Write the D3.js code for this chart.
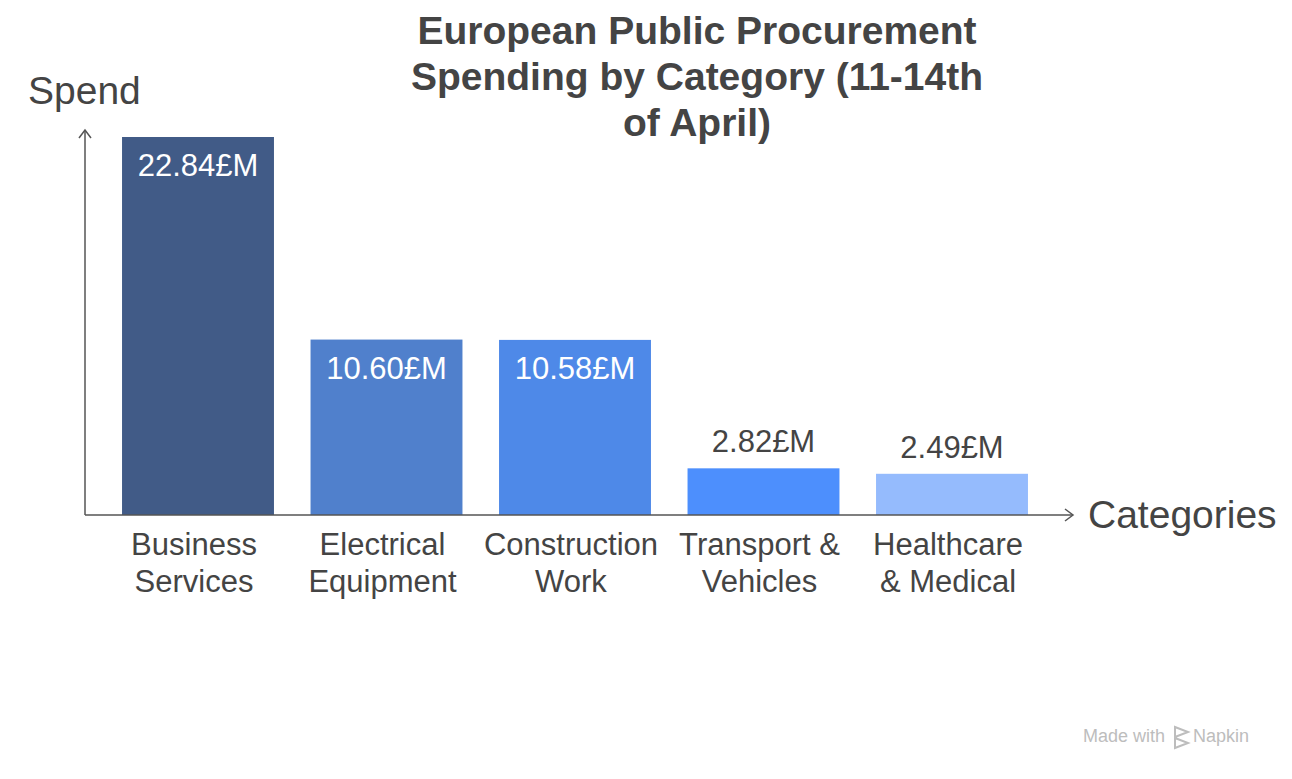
<!DOCTYPE html>
<html>
<head>
<meta charset="utf-8">
<script src="https://cdn.jsdelivr.net/npm/d3@7"></script>
<style>
  body { margin: 0; background: #fff; }
  svg { display: block; font-family: "Liberation Sans", Arial, sans-serif; }
</style>
</head>
<body>
<main></main>
<script>
const width = 1292;
const height = 779;

// chart data
const categories = ['Business Services', 'Electrical Equipment', 'Construction Work', 'Transport & Vehicles', 'Healthcare & Medical'];
const labelLines = [['Business', 'Services'], ['Electrical', 'Equipment'], ['Construction', 'Work'], ['Transport &', 'Vehicles'], ['Healthcare', '& Medical']];
const spend = [22.84, 10.60, 10.58, 2.82, 2.49];
const barColors = ['#415b87', '#5080cc', '#4e89e8', '#4d8ffd', '#95bbfd'];
const titleLines = ['European Public Procurement', 'Spending by Category (11-14th', 'of April)'];

const baseY = 515;
const axisX = 85;

const svg = d3.select('main')
  .append('svg')
  .attr('width', width)
  .attr('height', height);

const x = d3.scaleBand()
  .domain(categories)
  .range([103.75, 1046.25])
  .paddingInner(0.194)
  .paddingOuter(0.097);

const y = d3.scaleLinear()
  .domain([0, 22.84])
  .range([baseY, 137]);

// title
svg.append('text')
  .attr('text-anchor', 'middle')
  .attr('font-size', 39)
  .attr('font-weight', 'bold')
  .attr('fill', '#444')
  .selectAll('tspan')
  .data(titleLines)
  .enter()
  .append('tspan')
  .attr('x', 697)
  .attr('y', (d, i) => 44 + i * 46)
  .text(d => d);

// bars
svg.selectAll('rect.bar')
  .data(spend)
  .enter()
  .append('rect')
  .attr('class', 'bar')
  .attr('x', (d, i) => x(categories[i]))
  .attr('y', d => y(d))
  .attr('width', x.bandwidth())
  .attr('height', d => baseY - y(d))
  .attr('fill', (d, i) => barColors[i]);

// value labels: inside tall bars, above short ones
svg.selectAll('text.value')
  .data(spend)
  .enter()
  .append('text')
  .attr('class', 'value')
  .attr('text-anchor', 'middle')
  .attr('font-size', 31)
  .attr('x', (d, i) => x(categories[i]) + x.bandwidth() / 2)
  .attr('y', d => (baseY - y(d) > 80) ? y(d) + 39 : y(d) - 16)
  .attr('fill', d => (baseY - y(d) > 80) ? '#fff' : '#444')
  .text(d => d.toFixed(2) + '£M');

// axes with arrow heads
const axis = svg.append('g')
  .attr('stroke', '#555')
  .attr('stroke-width', 1.5)
  .attr('fill', 'none');

axis.append('path').attr('d', `M${axisX},${baseY}V130`);
axis.append('path').attr('d', `M${axisX - 6},${138}L${axisX},130L${axisX + 6},138`);
axis.append('path').attr('d', `M${axisX},${baseY}H1073`);
axis.append('path').attr('d', `M1065,${baseY - 6}L1073,${baseY}L1065,${baseY + 6}`);

svg.append('text')
  .attr('x', 28)
  .attr('y', 104)
  .attr('font-size', 39)
  .attr('fill', '#444')
  .text('Spend');

svg.append('text')
  .attr('x', 1088)
  .attr('y', 528)
  .attr('font-size', 39)
  .attr('fill', '#444')
  .text('Categories');

// category labels
const catLabels = svg.selectAll('text.cat')
  .data(categories)
  .enter()
  .append('text')
  .attr('class', 'cat')
  .attr('text-anchor', 'middle')
  .attr('font-size', 31)
  .attr('fill', '#444');

catLabels.selectAll('tspan')
  .data((d, i) => labelLines[i].map(t => ({ t, c: d })))
  .enter()
  .append('tspan')
  .attr('x', d => x(d.c) + x.bandwidth() / 2 - 4)
  .attr('y', (d, i) => 555 + i * 37)
  .text(d => d.t);

// watermark
const mark = svg.append('g').attr('fill', '#bdbdbd');
mark.append('text')
  .attr('x', 1083)
  .attr('y', 742)
  .attr('font-size', 18)
  .text('Made with');
mark.append('path')
  .attr('d', 'M1175,727l13,5l-13,5zM1175,738l13,5l-13,5z')
  .attr('fill', 'none')
  .attr('stroke', '#bdbdbd')
  .attr('stroke-width', 2);
mark.append('text')
  .attr('x', 1193)
  .attr('y', 742)
  .attr('font-size', 18)
  .text('Napkin');
</script>
</body>
</html>
